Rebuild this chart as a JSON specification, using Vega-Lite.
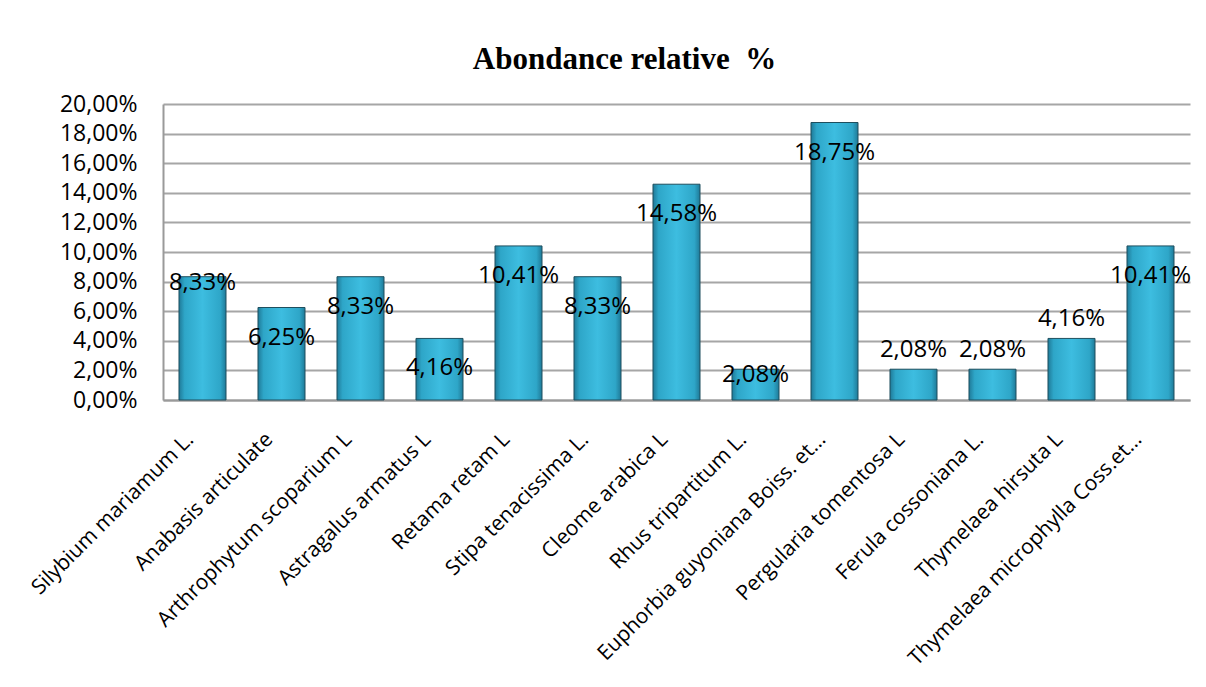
{
  "$schema": "https://vega.github.io/schema/vega-lite/v6.json",
  "autosize": {"type": "none"},
  "width": 1027,
  "height": 296,
  "padding": {"left": 163, "top": 104, "right": 16, "bottom": 287},
  "background": "white",
  "config": {
    "locale": {"number": {"decimal": ",", "thousands": " ", "grouping": [3], "currency": ["", " €"]}},
    "view": {"stroke": null},
    "font": "Open Sans"
  },
  "title": {
    "text": "Abondance relative\u00a0 %",
    "font": "Liberation Serif",
    "fontSize": 31,
    "fontWeight": "bold",
    "color": "black",
    "anchor": "middle",
    "dx": -52,
    "offset": 17
  },
  "data": {
    "values": [
      {"espece": "Silybium mariamum L.", "abondance": 0.0833},
      {"espece": "Anabasis articulate", "abondance": 0.0625},
      {"espece": "Arthrophytum scoparium L", "abondance": 0.0833},
      {"espece": "Astragalus armatus L", "abondance": 0.0416},
      {"espece": "Retama retam L", "abondance": 0.1041},
      {"espece": "Stipa tenacissima L.", "abondance": 0.0833},
      {"espece": "Cleome arabica L", "abondance": 0.1458},
      {"espece": "Rhus tripartitum L.", "abondance": 0.0208},
      {"espece": "Euphorbia guyoniana Boiss. et…", "abondance": 0.1875},
      {"espece": "Pergularia tomentosa L", "abondance": 0.0208},
      {"espece": "Ferula cossoniana L.", "abondance": 0.0208},
      {"espece": "Thymelaea hirsuta L", "abondance": 0.0416},
      {"espece": "Thymelaea microphylla Coss.et…", "abondance": 0.1041}
    ]
  },
  "encoding": {
    "x": {
      "field": "espece",
      "type": "nominal",
      "sort": null,
      "scale": {"paddingInner": 0.405, "paddingOuter": 0.2025},
      "axis": {
        "title": null,
        "labelAngle": -45,
        "labelAlign": "right",
        "labelBaseline": "middle",
        "labelFontSize": 21,
        "labelColor": "black",
        "labelFont": "Open Sans",
        "labelLimit": 500,
        "labelPadding": 36,
        "labelOffset": -12,
        "ticks": false,
        "domainColor": "#9a9a9a",
        "domainWidth": 2,
        "grid": false
      }
    },
    "y": {
      "field": "abondance",
      "type": "quantitative",
      "scale": {"domain": [0, 0.2], "nice": false},
      "axis": {
        "title": null,
        "format": ".2%",
        "values": [0, 0.02, 0.04, 0.06, 0.08, 0.1, 0.12, 0.14, 0.16, 0.18, 0.2],
        "labelFontSize": 23,
        "labelColor": "black",
        "labelFont": "Open Sans",
        "labelPadding": 26,
        "ticks": false,
        "domainColor": "#9a9a9a",
        "domainWidth": 2,
        "gridColor": "#a6a6a6",
        "gridWidth": 2
      }
    }
  },
  "layer": [
    {
      "mark": {
        "type": "bar",
        "stroke": "#1e4f5e",
        "strokeWidth": 1,
        "color": {
          "gradient": "linear",
          "x1": 0, "x2": 1, "y1": 0, "y2": 0,
          "stops": [
            {"offset": 0, "color": "#1f7a98"},
            {"offset": 0.12, "color": "#2ea6c8"},
            {"offset": 0.5, "color": "#3dbde0"},
            {"offset": 0.88, "color": "#2ea6c8"},
            {"offset": 1, "color": "#1f7a98"}
          ]
        }
      }
    },
    {
      "transform": [{"filter": {"not": {"field": "espece", "oneOf": ["Silybium mariamum L.", "Rhus tripartitum L.", "Pergularia tomentosa L", "Ferula cossoniana L.", "Thymelaea hirsuta L"]}}}],
      "mark": {"type": "text", "dy": 30, "fontSize": 24, "font": "Open Sans", "color": "black", "baseline": "middle"},
      "encoding": {"text": {"field": "abondance", "type": "quantitative", "format": ".2%"}}
    },
    {
      "transform": [{"filter": {"field": "espece", "oneOf": ["Silybium mariamum L.", "Rhus tripartitum L."]}}],
      "mark": {"type": "text", "dy": 6, "fontSize": 24, "font": "Open Sans", "color": "black", "baseline": "middle"},
      "encoding": {"text": {"field": "abondance", "type": "quantitative", "format": ".2%"}}
    },
    {
      "transform": [{"filter": {"field": "espece", "oneOf": ["Pergularia tomentosa L", "Ferula cossoniana L.", "Thymelaea hirsuta L"]}}],
      "mark": {"type": "text", "dy": -19, "fontSize": 24, "font": "Open Sans", "color": "black", "baseline": "middle"},
      "encoding": {"text": {"field": "abondance", "type": "quantitative", "format": ".2%"}}
    }
  ]
}
